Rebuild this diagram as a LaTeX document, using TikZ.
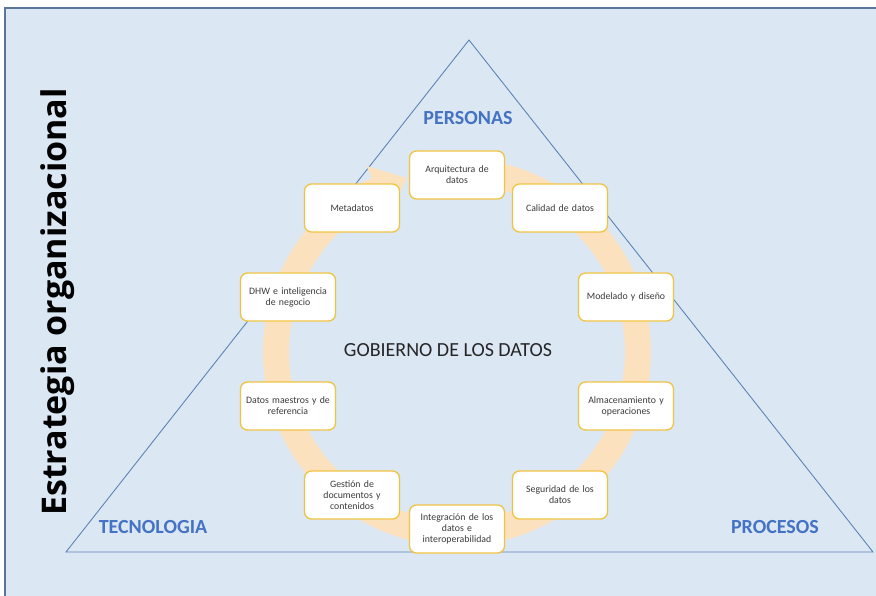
\documentclass[tikz,border=0pt]{standalone}
\usepackage{fontspec}
\setmainfont{Carlito}
\newfontfamily\titlefont{Open Sans}

\definecolor{bgBlue}{HTML}{DCE7F4}
\definecolor{frameBlue}{HTML}{5A7699}
\definecolor{lineBlue}{HTML}{5C84B5}
\definecolor{textBlue}{HTML}{4472C4}
\definecolor{ringPeach}{HTML}{FCE1BF}
\definecolor{boxGold}{HTML}{F0C443}
\definecolor{boxText}{HTML}{3A3A3A}

\begin{document}
\begin{tikzpicture}[x=1pt,y=-1pt,
        areaNode/.style = {draw=boxGold,fill=white,line width=1.3pt,rounded corners=7pt,
            minimum width=95pt,minimum height=48pt,text width=88pt,align=center,
            text=boxText,font=\fontsize{9.8}{11}\selectfont},
        cornerLabel/.style = {text=textBlue,font=\fontsize{20}{22}\selectfont\bfseries},
        ringLine/.style = {draw=ringPeach,line width=26pt}
        ]
        \useasboundingbox (0,0) rectangle (876,596);
        % fondo
        \fill[bgBlue] (5,8) rectangle (876,596);
        \draw[frameBlue,line width=1.5pt] (876,8) -- (5,8) -- (5,596);
        % triangulo
        \coordinate (top) at (469,40);
        \coordinate (baseL) at (66,552);
        \coordinate (baseR) at (873,552);
        \draw[lineBlue,line width=0.9pt,line join=miter] (top) -- (baseR) -- (baseL) -- cycle;
        % ciclo (eje y invertido: angulos con signo cambiado)
        \coordinate (center) at (457,352);
        \draw[ringLine] (center) ++(-90:181) arc[start angle=-90,end angle=245,radius=181];
        \fill[ringPeach] ([shift={(244:207)}]center) -- ([shift={(254:181)}]center)
            -- ([shift={(244:155)}]center) -- cycle;
        % areas
        \node[areaNode] (arq) at (457,175) {Arquitectura de\\datos};
        \node[areaNode] (cal) at (560,208) {Calidad de datos};
        \node[areaNode] (mod) at (626,297) {Modelado y diseño};
        \node[areaNode] (alm) at (626,406) {Almacenamiento y\\operaciones};
        \node[areaNode] (seg) at (560,495) {Seguridad de los\\datos};
        \node[areaNode] (int) at (457,529) {Integración de los\\datos e\\interoperabilidad};
        \node[areaNode] (ges) at (352,495) {Gestión de\\documentos y\\contenidos};
        \node[areaNode] (mae) at (288,406) {Datos maestros y de\\referencia};
        \node[areaNode] (dhw) at (288,297) {DHW e inteligencia\\de negocio};
        \node[areaNode] (met) at (352,208) {Metadatos};
        % textos
        \node[text=black!85,font=\fontsize{20}{22}\selectfont] (gob) at (448,350) {GOBIERNO DE LOS DATOS};
        \node[cornerLabel] (per) at (468,118) {PERSONAS};
        \node[cornerLabel] (tec) at (153,527) {TECNOLOGIA};
        \node[cornerLabel] (pro) at (775,527) {PROCESOS};
        \node[rotate=90,font=\titlefont\fontsize{34}{36}\selectfont\bfseries] (est) at (58,302) {Estrategia organizacional};
\end{tikzpicture}
\end{document}
